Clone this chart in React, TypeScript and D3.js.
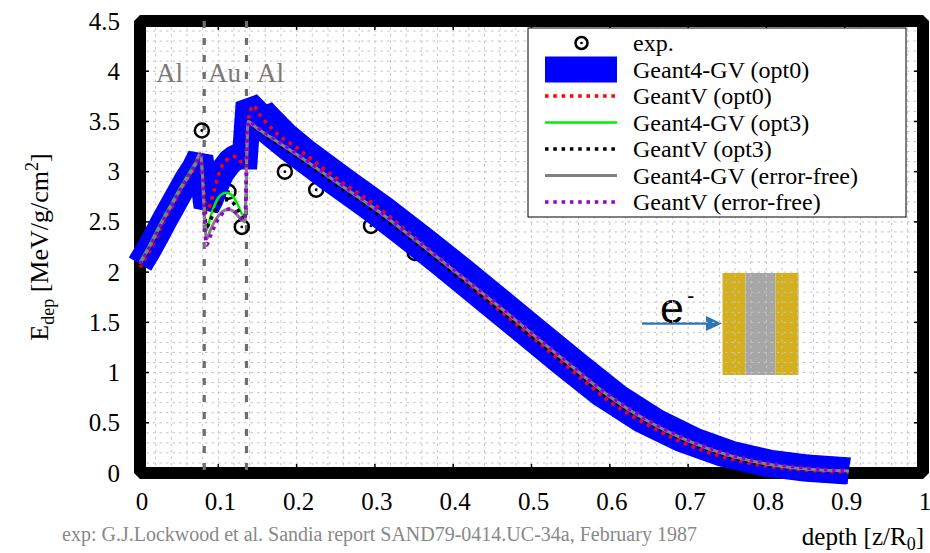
import React from 'react';
import * as d3 from 'd3';

const depth = [0, 0.01, 0.02, 0.03, 0.04, 0.05, 0.06, 0.07, 0.077, 0.085, 0.09, 0.095, 0.1, 0.105, 0.11, 0.115, 0.12, 0.125, 0.13, 0.134, 0.138, 0.145, 0.15, 0.175, 0.2, 0.25, 0.3, 0.35, 0.4, 0.45, 0.5, 0.55, 0.6, 0.65, 0.7, 0.75, 0.8, 0.85, 0.905];

const g4Opt0 = [2.08, 2.21, 2.35, 2.5, 2.64, 2.78, 2.92, 3.04, 3.15, 2.65, 2.72, 2.82, 2.92, 3.0, 3.05, 3.1, 3.13, 3.15, 3.15, 3.15, 3.6, 3.62, 3.58, 3.38, 3.22, 2.93, 2.65, 2.35, 2.04, 1.72, 1.4, 1.08, 0.77, 0.52, 0.33, 0.19, 0.1, 0.05, 0.02];
const gvOpt0 = [2.05, 2.18, 2.33, 2.5, 2.64, 2.79, 2.92, 3.05, 3.17, 2.6, 2.68, 2.82, 2.96, 3.06, 3.11, 3.14, 3.15, 3.14, 3.08, 3.04, 3.5, 3.66, 3.6, 3.38, 3.24, 2.94, 2.67, 2.35, 2.02, 1.68, 1.36, 1.03, 0.71, 0.47, 0.28, 0.15, 0.07, 0.03, 0.01];
const g4Opt3 = [2.1, 2.24, 2.39, 2.54, 2.68, 2.82, 2.95, 3.08, 3.18, 2.42, 2.55, 2.66, 2.74, 2.78, 2.79, 2.78, 2.74, 2.67, 2.58, 2.55, 3.5, 3.46, 3.43, 3.3, 3.17, 2.9, 2.63, 2.33, 2.02, 1.71, 1.39, 1.07, 0.76, 0.51, 0.32, 0.18, 0.09, 0.04, 0.02];
const gvOpt3 = [2.07, 2.21, 2.36, 2.51, 2.66, 2.8, 2.93, 3.06, 3.17, 2.45, 2.52, 2.6, 2.67, 2.71, 2.72, 2.71, 2.68, 2.62, 2.55, 2.52, 3.48, 3.45, 3.42, 3.28, 3.15, 2.87, 2.6, 2.3, 1.99, 1.68, 1.36, 1.05, 0.74, 0.5, 0.31, 0.17, 0.08, 0.04, 0.02];
const g4ErrFree = [2.08, 2.22, 2.37, 2.52, 2.66, 2.8, 2.93, 3.06, 3.18, 2.33, 2.42, 2.5, 2.56, 2.6, 2.62, 2.62, 2.6, 2.56, 2.52, 2.5, 3.5, 3.46, 3.43, 3.3, 3.17, 2.9, 2.63, 2.33, 2.02, 1.71, 1.39, 1.07, 0.76, 0.51, 0.32, 0.18, 0.09, 0.04, 0.02];
const gvErrFree = [2.08, 2.22, 2.37, 2.52, 2.66, 2.8, 2.93, 3.06, 3.17, 2.27, 2.36, 2.45, 2.53, 2.58, 2.62, 2.63, 2.61, 2.57, 2.53, 2.52, 3.5, 3.47, 3.44, 3.31, 3.18, 2.91, 2.64, 2.34, 2.03, 1.72, 1.4, 1.08, 0.77, 0.52, 0.33, 0.19, 0.1, 0.05, 0.02];

const expDepth = [0.079, 0.113, 0.13, 0.185, 0.225, 0.295, 0.351, 0.388];
const expEdep = [3.41, 2.8, 2.45, 3.0, 2.82, 2.46, 2.19, 2.0];

const layerBounds = [0.082, 0.136];
const layerNames = ['Al', 'Au', 'Al'];

const xTicks = [0, 0.1, 0.2, 0.3, 0.4, 0.5, 0.6, 0.7, 0.8, 0.9, 1];
const yTicks = [0, 0.5, 1, 1.5, 2, 2.5, 3, 3.5, 4, 4.5];

const legendNames = ['exp.', 'Geant4-GV (opt0)', 'GeantV (opt0)', 'Geant4-GV (opt3)', 'GeantV (opt3)', 'Geant4-GV (error-free)', 'GeantV (error-free)'];

const serif = '"Liberation Serif", "Times New Roman", serif';

export default function App() {
  const x = d3.scaleLinear().domain([0, 1]).range([140, 923]);
  const y = d3.scaleLinear().domain([0, 4.5]).range([473, 21]);

  const line = d3.line<number>()
    .x((d, i) => x(depth[i]))
    .y((d) => y(d))
    .curve(d3.curveMonotoneX);
  const thick = d3.line<number>()
    .x((d, i) => x(depth[i]))
    .y((d) => y(d));

  // the opt0 band gets fatter on the falling side, so that part is stroked in a stretched frame
  const stretch = 1.6;
  const tailStart = depth.indexOf(0.145);
  const thickTail = d3.line<number>()
    .x((d, i) => x(depth[i + tailStart]) / stretch)
    .y((d) => y(d));

  // thin series, drawn over the thick opt0 band
  const series = [
    { values: gvOpt0, color: '#ff0000', width: 3.5, dash: '3.5 4.8' },
    { values: g4Opt3, color: '#00ee00', width: 2.5, dash: null },
    { values: gvOpt3, color: '#000000', width: 3.5, dash: '3.5 4.8' },
    { values: g4ErrFree, color: '#808080', width: 3, dash: null },
    { values: gvErrFree, color: '#9400d3', width: 3.5, dash: '3.5 4.8' },
  ];

  const gridX = d3.range(1, 50).map((i) => i / 50);
  const gridY = d3.range(1, 45).map((i) => i / 10);

  const legRows = [43, 69.5, 96, 122.5, 149, 175.5, 202];

  return (
    <svg width={930} height={553} style={{ position: 'absolute', left: 0, top: 0, background: '#fff' }}>
      {/* target sketch */}
      <g>
        <rect x={722.5} y={273} width={23} height={102} fill="#d4af1e" />
        <rect x={745.5} y={273} width={30} height={102} fill="#a6a6a6" />
        <rect x={775.5} y={273} width={23} height={102} fill="#d4af1e" />
        <line x1={642} x2={709} y1={323.5} y2={323.5} stroke="#2e75b6" strokeWidth={2.5} />
        <polygon points="706,316 722,323.5 706,331" fill="#2e75b6" />
        <text x={660} y={323} fontFamily='"Liberation Sans", Arial, sans-serif' fontSize={43}>e</text>
        <text x={687} y={303} fontFamily='"Liberation Sans", Arial, sans-serif' fontSize={22}>-</text>
      </g>

      <g stroke="#c4c4c4" strokeWidth={1} strokeDasharray="2.5 4">
        {gridX.map((v) => <line key={'gx' + v} x1={x(v)} x2={x(v)} y1={y(4.5)} y2={y(0)} />)}
        {gridY.map((v) => <line key={'gy' + v} x1={x(0)} x2={x(1)} y1={y(v)} y2={y(v)} />)}
      </g>

      <rect x={x(0)} y={y(4.5)} width={x(1) - x(0)} height={y(0) - y(4.5)} fill="none" stroke="#000" strokeWidth={12} strokeLinejoin="bevel" />

      <g stroke="#000" strokeWidth={1.5}>
        {xTicks.map((v) => (
          <g key={'xt' + v}>
            <line x1={x(v)} x2={x(v)} y1={y(0)} y2={y(0) - 9} />
            <line x1={x(v)} x2={x(v)} y1={y(4.5)} y2={y(4.5) + 9} />
          </g>
        ))}
        {yTicks.map((v) => (
          <g key={'yt' + v}>
            <line x1={x(0)} x2={x(0) + 9} y1={y(v)} y2={y(v)} />
            <line x1={x(1)} x2={x(1) - 9} y1={y(v)} y2={y(v)} />
          </g>
        ))}
      </g>

      <g fontFamily={serif} fontSize={25} fill="#000">
        {xTicks.map((v) => (
          <text key={'xl' + v} x={x(v) + 2} y={510} textAnchor="middle">{String(v)}</text>
        ))}
        {yTicks.map((v) => (
          <text key={'yl' + v} x={120} y={y(v) + 8.5} textAnchor="end">{String(v)}</text>
        ))}
      </g>

      {layerBounds.map((b) => (
        <line key={'lb' + b} x1={x(b)} x2={x(b)} y1={y(4.5)} y2={y(0)} stroke="#6e6e6e" strokeWidth={3.2} strokeDasharray="7 10" />
      ))}
      <g fontFamily={serif} fontSize={27} fill="#7a7a7a">
        <text x={156} y={82}>{layerNames[0]}</text>
        <text x={208} y={82}>{layerNames[1]}</text>
        <text x={257} y={82}>{layerNames[2]}</text>
      </g>

      <g>
        {expDepth.map((d, i) => (
          <g key={'ex' + i}>
            <circle cx={x(d)} cy={y(expEdep[i])} r={7} fill="none" stroke="#000" strokeWidth={2.5} />
            <circle cx={x(d)} cy={y(expEdep[i])} r={1.4} fill="#000" />
          </g>
        ))}
      </g>

      <path d={thick(g4Opt0) || ''} fill="none" stroke="#0000ff" strokeWidth={26} strokeLinejoin="miter" strokeMiterlimit={3} strokeLinecap="butt" />
      <g transform={`scale(${stretch},1)`}>
        <path d={thickTail(g4Opt0.slice(tailStart)) || ''} fill="none" stroke="#0000ff" strokeWidth={27} strokeLinejoin="round" strokeLinecap="butt" />
      </g>

      {series.map((s, i) => (
        <path key={'s' + i} d={line(s.values) || ''} fill="none" stroke={s.color} strokeWidth={s.width}
          strokeDasharray={s.dash || undefined} />
      ))}

      <g>
        <rect x={528} y={28} width={378} height={189} fill="#fff" stroke="#000" strokeWidth={1} />
        <circle cx={581.5} cy={legRows[0]} r={6} fill="none" stroke="#000" strokeWidth={2.5} />
        <circle cx={581.5} cy={legRows[0]} r={1.3} fill="#000" />
        <rect x={545} y={legRows[1] - 13} width={72} height={26} fill="#0000ff" />
        {series.map((s, i) => (
          <line key={'ls' + i} x1={545} x2={617} y1={legRows[i + 2]} y2={legRows[i + 2]} stroke={s.color}
            strokeWidth={s.width} strokeDasharray={s.dash || undefined} />
        ))}
        {legendNames.map((n, i) => (
          <text key={'ln' + i} x={633} y={legRows[i] + 8} fontFamily={serif} fontSize={24}>{n}</text>
        ))}
      </g>

      <text transform="translate(48,247) rotate(-90)" textAnchor="middle" fontFamily={serif} fontSize={26}>
        E<tspan dy={6} fontSize={18}>dep</tspan><tspan dy={-6}> [MeV/g/cm</tspan><tspan dy={-10} fontSize={18}>2</tspan><tspan dy={10}>]</tspan>
      </text>
      <text x={924} y={545} textAnchor="end" fontFamily={serif} fontSize={25}>
        depth [z/R<tspan dy={5} fontSize={18}>0</tspan><tspan dy={-5}>]</tspan>
      </text>
      <text x={62} y={541} fontFamily={serif} fontSize={20} fill="#888">
        exp: G.J.Lockwood et al. Sandia report SAND79-0414.UC-34a, February 1987
      </text>
    </svg>
  );
}
